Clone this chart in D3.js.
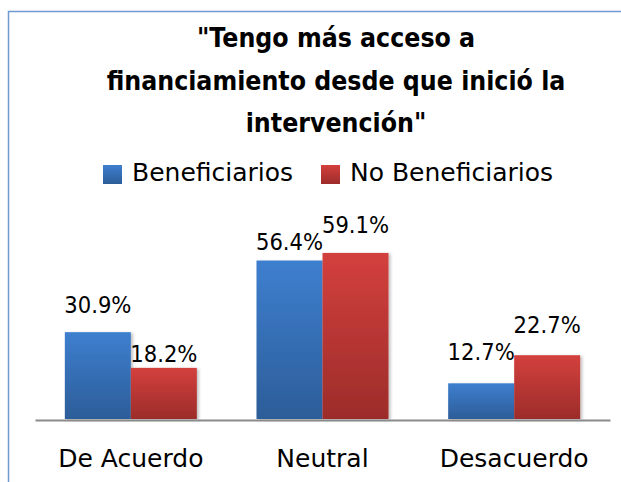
<!DOCTYPE html>
<html>
<head>
<meta charset="utf-8">
<script src="https://cdn.jsdelivr.net/npm/d3@7"></script>
<style>
  html, body { margin: 0; padding: 0; background: #fff; }
  svg { display: block; font-family: "DejaVu Sans", sans-serif; }
</style>
</head>
<body>
<svg id="chart" width="621" height="482"></svg>
<script>
// chart data
const titleLines = ['"Tengo más acceso a', 'financiamiento desde que inició la', 'intervención"'];
const categories = ["De Acuerdo", "Neutral", "Desacuerdo"];
const seriesNames = ["Beneficiarios", "No Beneficiarios"];
const beneficiarios = [30.9, 56.4, 12.7];
const noBeneficiarios = [18.2, 59.1, 22.7];

const svg = d3.select('#chart');
const W = 621, H = 482;

// gradients + shadow
const defs = svg.append('defs');
const grads = [
    { id: 'gBlue', top: '#3e7fcf', bottom: '#2c5d99' },
    { id: 'gRed', top: '#d3403d', bottom: '#9c2c2a' }
];
grads.forEach(g => {
    const lg = defs.append('linearGradient').attr('id', g.id)
        .attr('x1', 0).attr('y1', 0).attr('x2', 0).attr('y2', 1);
    lg.append('stop').attr('offset', '0%').attr('stop-color', g.top);
    lg.append('stop').attr('offset', '100%').attr('stop-color', g.bottom);
});
const shadow = defs.append('filter').attr('id', 'shadow')
    .attr('x', '-10%').attr('y', '-10%').attr('width', '130%').attr('height', '130%');
shadow.append('feDropShadow').attr('dx', 2).attr('dy', 1)
    .attr('stdDeviation', 1.5).attr('flood-color', '#000').attr('flood-opacity', 0.25);

// outer frame (only left and top edges visible)
svg.append('rect')
    .attr('x', 8.5).attr('y', 11.5)
    .attr('width', W + 20).attr('height', H + 20)
    .attr('fill', 'none')
    .attr('stroke', '#7099cf')
    .attr('stroke-width', 1.5);

// title
const titleX = 336;
const titleY = [47, 89.5, 132];
const sqTitle = 0.88;
titleLines.forEach((t, i) => {
    svg.append('text')
        .attr('transform', `translate(${titleX},${titleY[i]}) scale(${sqTitle},1)`)
        .attr('text-anchor', 'middle')
        .attr('font-size', 27)
        .attr('font-weight', 'bold')
        .attr('fill', '#000')
        .text(t);
});

// legend
const legendX = [103, 321];
const fills = ['url(#gBlue)', 'url(#gRed)'];
seriesNames.forEach((name, i) => {
    const g = svg.append('g').attr('transform', `translate(${legendX[i]},165)`);
    g.append('rect').attr('width', 19).attr('height', 19).attr('fill', fills[i]);
    g.append('text')
        .attr('x', 29).attr('y', 15.5)
        .attr('font-size', 25)
        .attr('fill', '#000')
        .text(name);
});

// scales
const baseY = 419;
const y = d3.scaleLinear().domain([0, 100]).range([baseY, baseY - 281]);
const x0 = d3.scaleBand().domain(categories).range([35, 610]).padding(0);
const groupW = 132;
const x1 = d3.scaleBand().domain(seriesNames)
    .range([x0.bandwidth() / 2 - groupW / 2, x0.bandwidth() / 2 + groupW / 2]);

const rows = categories.map((c, i) => ({
    cat: c,
    vals: [
        { s: seriesNames[0], v: beneficiarios[i], fill: fills[0] },
        { s: seriesNames[1], v: noBeneficiarios[i], fill: fills[1] }
    ]
}));

// label lift above bar tops (Excel nudged a couple of them)
const labelLift = [[19, 6], [11, 20], [23, 22]];

const groups = svg.selectAll('g.cat').data(rows).enter()
    .append('g').attr('class', 'cat')
    .attr('transform', d => `translate(${x0(d.cat)},0)`);

groups.selectAll('rect').data(d => d.vals).enter()
    .append('rect')
    .attr('x', d => x1(d.s))
    .attr('y', d => y(d.v))
    .attr('width', x1.bandwidth())
    .attr('height', d => y(0) - y(d.v))
    .attr('fill', d => d.fill)
    .attr('filter', 'url(#shadow)');

const sqLabel = 0.92;
groups.each(function (d, ci) {
    d3.select(this).selectAll('text.lbl').data(d.vals).enter()
        .append('text').attr('class', 'lbl')
        .attr('transform', (v, si) =>
            `translate(${x1(v.s) + x1.bandwidth() / 2},${y(v.v) - labelLift[ci][si]}) scale(${sqLabel},1)`)
        .attr('text-anchor', 'middle')
        .attr('font-size', 23)
        .attr('fill', '#000')
        .text(v => v.v.toFixed(1) + '%');
});

// x axis
const xAxis = svg.append('g')
    .attr('transform', `translate(0,${baseY + 1})`)
    .call(d3.axisBottom(x0).tickSize(0).tickPadding(0));
xAxis.select('.domain').attr('stroke', '#8a8a8a').attr('stroke-width', 2);
xAxis.selectAll('text')
    .attr('font-family', '"DejaVu Sans", sans-serif')
    .attr('font-size', 25)
    .attr('fill', '#000')
    .attr('dy', 0)
    .attr('y', 47);
</script>
</body>
</html>
